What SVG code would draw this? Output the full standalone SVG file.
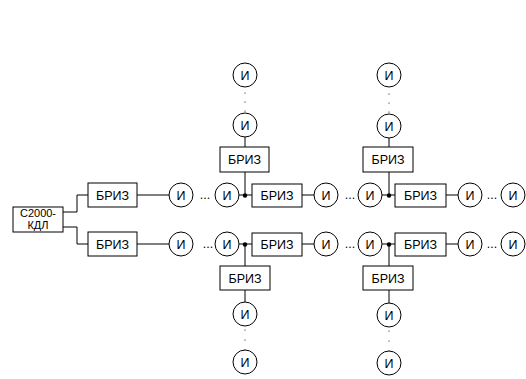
<svg xmlns="http://www.w3.org/2000/svg" width="526" height="379" viewBox="0 0 526 379">
<style>
.b{fill:#fff;stroke:#000;stroke-width:1}
.c{fill:#fff;stroke:#000;stroke-width:1}
.t{font-family:"Liberation Sans",Arial,sans-serif;font-size:12.5px;text-anchor:middle;fill:#000}
.s{font-family:"Liberation Sans",Arial,sans-serif;font-size:11px;text-anchor:middle;fill:#000}
.l{fill:none;stroke:#000;stroke-width:1}
</style>
<rect width="526" height="379" fill="#fff"/>
<g id="connectors">
<path class="l" d="M63 212H77V195H88M63 227H77V244H88"/>
<path class="l" d="M137 195H169M239 195H252M302 195H314M382 195H395M446 195H458"/>
<path class="l" d="M137 244H169M239 244H252M302 244H314M382 244H395M446 244H458"/>
<path class="l" d="M245 137V147M245 172V195M389 138V147M389 172V195"/>
<path class="l" d="M245 244V266M245 290V302M389 244V266M389 290V303"/>
<circle cx="245" cy="195.5" r="2.2" fill="#000"/>
<circle cx="389" cy="195.5" r="2.2" fill="#000"/>
<circle cx="245" cy="244.5" r="2.2" fill="#000"/>
<circle cx="389" cy="244.5" r="2.2" fill="#000"/>
<g fill="#000">
<circle cx="245" cy="93" r="0.6"/><circle cx="245" cy="102" r="0.6"/><circle cx="245" cy="111" r="0.6"/>
<circle cx="389" cy="94" r="0.6"/><circle cx="389" cy="103" r="0.6"/><circle cx="389" cy="112" r="0.6"/>
<circle cx="245" cy="330" r="0.6"/><circle cx="245" cy="340" r="0.6"/><circle cx="245" cy="350" r="0.6"/>
<circle cx="389" cy="331" r="0.6"/><circle cx="389" cy="341" r="0.6"/><circle cx="389" cy="351" r="0.6"/>
</g>
<text class="t" x="205" y="199">...</text>
<text class="t" x="350" y="199">...</text>
<text class="t" x="492" y="199">...</text>
<text class="t" x="208" y="248">...</text>
<text class="t" x="350" y="248">...</text>
<text class="t" x="492" y="248">...</text>
</g>
<g id="kdl"><rect class="b" x="13" y="207" width="50" height="25"/><text class="s" x="38" y="217">С2000-</text><text class="s" x="38" y="229">КДЛ</text></g>
<g id="briz1"><rect class="b" x="88" y="183" width="49" height="24"/><text class="t" x="112.5" y="199.5">БРИЗ</text></g>
<g id="briz2"><rect class="b" x="88" y="232" width="49" height="24"/><text class="t" x="112.5" y="248.5">БРИЗ</text></g>
<g id="briz3"><rect class="b" x="252" y="184" width="50" height="23"/><text class="t" x="277" y="199.5">БРИЗ</text></g>
<g id="briz4"><rect class="b" x="395" y="184" width="51" height="23"/><text class="t" x="420.5" y="199.5">БРИЗ</text></g>
<g id="briz5"><rect class="b" x="252" y="233" width="50" height="23"/><text class="t" x="277" y="248.5">БРИЗ</text></g>
<g id="briz6"><rect class="b" x="395" y="233" width="51" height="23"/><text class="t" x="420.5" y="248.5">БРИЗ</text></g>
<g id="briz7"><rect class="b" x="220" y="147" width="49" height="25"/><text class="t" x="244.5" y="164">БРИЗ</text></g>
<g id="briz8"><rect class="b" x="363" y="147" width="50" height="25"/><text class="t" x="388" y="164">БРИЗ</text></g>
<g id="briz9"><rect class="b" x="220" y="266" width="50" height="24"/><text class="t" x="245" y="282.5">БРИЗ</text></g>
<g id="briz10"><rect class="b" x="363" y="266" width="50" height="24"/><text class="t" x="388" y="282.5">БРИЗ</text></g>
<g id="i1"><circle class="c" cx="181" cy="195" r="12"/><text class="t" x="181" y="199.5">И</text></g>
<g id="i2"><circle class="c" cx="227" cy="195" r="12"/><text class="t" x="227" y="199.5">И</text></g>
<g id="i3"><circle class="c" cx="326" cy="195" r="12"/><text class="t" x="326" y="199.5">И</text></g>
<g id="i4"><circle class="c" cx="370" cy="195" r="12"/><text class="t" x="370" y="199.5">И</text></g>
<g id="i5"><circle class="c" cx="470" cy="195" r="12"/><text class="t" x="470" y="199.5">И</text></g>
<g id="i6"><circle class="c" cx="513" cy="195" r="12"/><text class="t" x="513" y="199.5">И</text></g>
<g id="i7"><circle class="c" cx="181" cy="244" r="12"/><text class="t" x="181" y="248.5">И</text></g>
<g id="i8"><circle class="c" cx="227" cy="244" r="12"/><text class="t" x="227" y="248.5">И</text></g>
<g id="i9"><circle class="c" cx="326" cy="244" r="12"/><text class="t" x="326" y="248.5">И</text></g>
<g id="i10"><circle class="c" cx="370" cy="244" r="12"/><text class="t" x="370" y="248.5">И</text></g>
<g id="i11"><circle class="c" cx="470" cy="244" r="12"/><text class="t" x="470" y="248.5">И</text></g>
<g id="i12"><circle class="c" cx="513" cy="244" r="12"/><text class="t" x="513" y="248.5">И</text></g>
<g id="i13"><circle class="c" cx="245" cy="75" r="12"/><text class="t" x="245" y="79.5">И</text></g>
<g id="i14"><circle class="c" cx="245" cy="125" r="12"/><text class="t" x="245" y="129.5">И</text></g>
<g id="i15"><circle class="c" cx="389" cy="75" r="12"/><text class="t" x="389" y="79.5">И</text></g>
<g id="i16"><circle class="c" cx="389" cy="126" r="12"/><text class="t" x="389" y="130.5">И</text></g>
<g id="i17"><circle class="c" cx="245" cy="314" r="12"/><text class="t" x="245" y="318.5">И</text></g>
<g id="i18"><circle class="c" cx="245" cy="362" r="12"/><text class="t" x="245" y="366.5">И</text></g>
<g id="i19"><circle class="c" cx="389" cy="315" r="12"/><text class="t" x="389" y="319.5">И</text></g>
<g id="i20"><circle class="c" cx="389" cy="363" r="12"/><text class="t" x="389" y="367.5">И</text></g>
</svg>
